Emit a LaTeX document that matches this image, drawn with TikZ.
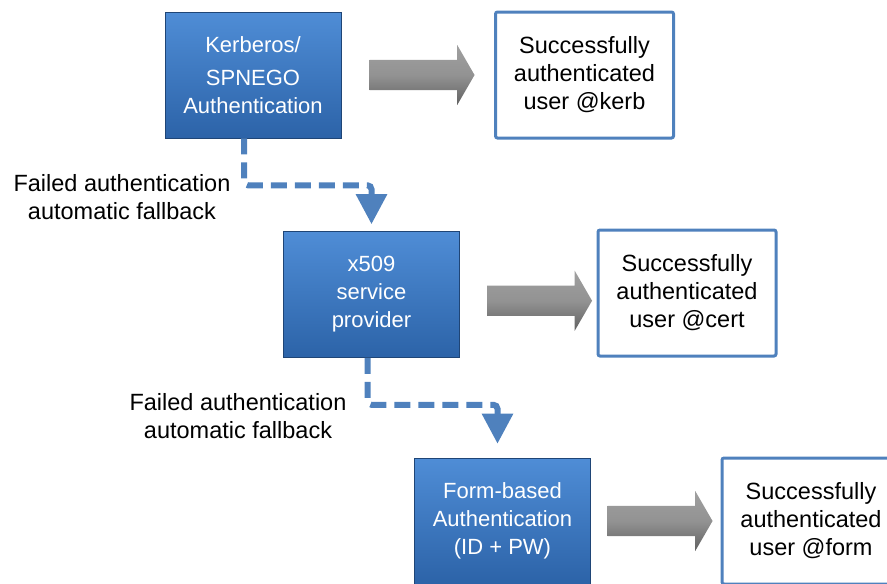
\documentclass[tikz,border=0pt]{standalone}
\usepackage{fontspec}
\setmainfont{Liberation Sans}
\usetikzlibrary{shapes.arrows,arrows.meta,calc}

\definecolor{authtop}{HTML}{4F8DD6}
\definecolor{authbot}{HTML}{2C63A8}
\definecolor{linkblue}{HTML}{4F81BD}

\tikzset{
  authbox/.style={rectangle, minimum width=176pt, minimum height=126pt,
    top color=authtop, bottom color=authbot, draw=authbot!70!black,
    line width=0.6pt, text=white, align=center,
    font=\fontsize{22}{28}\selectfont},
  okbox/.style={rectangle, minimum width=178pt, minimum height=126pt,
    draw=linkblue, line width=3pt, fill=white, rounded corners=2pt,
    align=center, font=\fontsize{23.5}{28}\selectfont},
  fatarrow/.style={single arrow, minimum height=105pt, inner sep=15pt,
    single arrow head extend=15pt, single arrow tip angle=120,
    top color=gray!75, bottom color=black!62, middle color=gray!85},
  fallback/.style={draw=linkblue, line width=6pt, rounded corners=4pt,
    dash pattern=on 16pt off 8pt, -{Triangle[width=30pt,length=30pt]}},
  note/.style={align=center, font=\fontsize{23.5}{28}\selectfont}
}

\begin{document}
\begin{tikzpicture}[x=1pt,y=-1pt]
    \useasboundingbox (0,0) rectangle (887,584);
    % authentication steps
    \node[authbox] (kerb) at (253,75) {Kerberos/\\[5pt]SPNEGO\\Authentication};
    \node[authbox] (x509) at (371.5,294.5) {x509\\service\\provider};
    \node[authbox] (form) at (502.5,521) {Form-based\\Authentication\\(ID + PW)};
    % results
    \node[okbox] (okkerb) at (584.5,75) {Successfully\\authenticated\\user @kerb};
    \node[okbox] (okcert) at (687,293) {Successfully\\authenticated\\user @cert};
    \node[okbox] (okform) at (811,521) {Successfully\\authenticated\\user @form};
    % success arrows
    \node[fatarrow] (a1) at ($(kerb.east)!0.5!(okkerb.west)$) {};
    \node[fatarrow] (a2) at ($(x509.east)!0.5!(okcert.west)+(7,7)$) {};
    \node[fatarrow] (a3) at ($(form.east)!0.5!(okform.west)$) {};
    % fallbacks
    \draw[fallback] ([xshift=-9pt]kerb.south) -- ++(0,47) -| ([yshift=7pt]x509.north);
    \node[note] (fail1) at (122,197) {Failed authentication\\automatic fallback};
    \draw[fallback] ([xshift=-4pt]x509.south) -- ++(0,47) -| ([yshift=14pt,xshift=-5pt]form.north);
    \node[note] (fail2) at (238,416) {Failed authentication\\automatic fallback};
\end{tikzpicture}
\end{document}
